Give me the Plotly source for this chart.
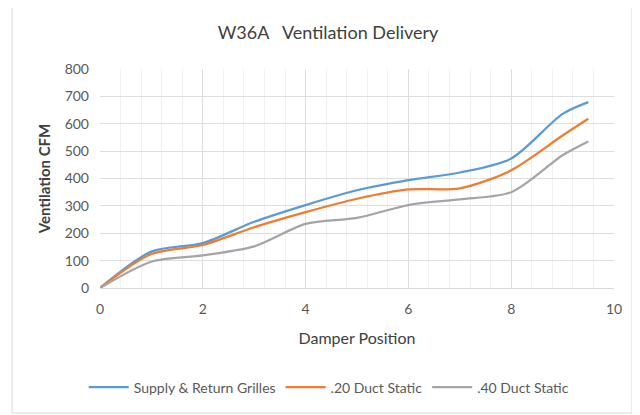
import plotly.graph_objects as go

damper = [0, 1, 2, 3, 4, 5, 6, 7, 8, 9, 9.5]
supply_return = [0, 133, 164, 242, 303, 357, 394, 422, 473, 636, 679]
duct_20 = [0, 124, 157, 222, 277, 326, 360, 364, 430, 557, 618]
duct_40 = [0, 96, 119, 152, 234, 256, 303, 324, 350, 485, 535]

SERIES = [
    ("Supply & Return Grilles", supply_return, "#5b9bd5"),
    (".20 Duct Static", duct_20, "#ed7d31"),
    (".40 Duct Static", duct_40, "#a5a5a5"),
]
FONT = "Lato, Open Sans, sans-serif"

fig = go.Figure()
for name, values, color in SERIES:
    fig.add_trace(go.Scatter(
        x=damper, y=values, name=name, mode="lines",
        line=dict(color=color, width=2.25, shape="spline", smoothing=0.8),
    ))

# the page has an 8px body margin, so the layout is shifted up/left by 8px
fig.update_layout(
    width=640, height=415,
    paper_bgcolor="white", plot_bgcolor="white",
    margin=dict(l=92, r=34, t=61, b=135),
    font=dict(family=FONT, color="#595959", size=14),
    title=dict(text="W36A   Ventilation Delivery", x=0.5, xanchor="center",
               y=0.94, yanchor="middle",
               font=dict(family=FONT, size=18, color="#404040")),
    legend=dict(orientation="h", x=0.445, xanchor="center", y=-0.455, yanchor="middle",
                font=dict(size=14, color="#595959"), itemwidth=40, tracegroupgap=0),
    shapes=[dict(type="rect", xref="paper", yref="paper",
                 x0=-0.171, x1=1.035, y0=-0.571, y1=1.29,
                 line=dict(color="#d9d9d9", width=1), layer="below")],
)
fig.update_xaxes(
    range=[0, 10], dtick=2, tick0=0, showline=True, linecolor="#d9d9d9",
    gridcolor="#dedede", zeroline=False, ticks="", ticklabelstandoff=8,
    minor=dict(dtick=0.4, showgrid=True, gridcolor="#f0f0f0"),
    title=dict(text="Damper Position", font=dict(size=16, color="#404040"), standoff=17),
    tickfont=dict(size=14, color="#595959"),
)
fig.update_yaxes(
    range=[0, 800], dtick=100, showline=False, gridcolor="#dedede", zeroline=False,
    ticks="", ticklabelstandoff=10,
    title=dict(text="<b>Ventilation CFM</b>", font=dict(size=15, color="#404040"), standoff=10),
    tickfont=dict(size=14, color="#595959"),
)

fig.write_html("out.html")
